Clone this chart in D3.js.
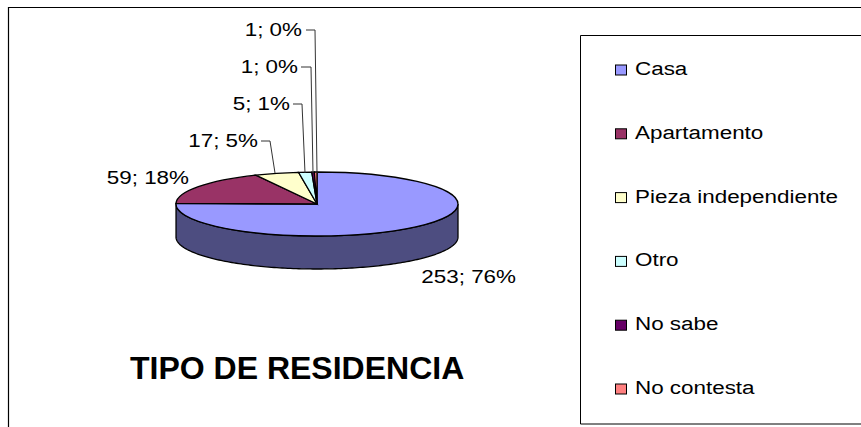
<!DOCTYPE html>
<html><head><meta charset="utf-8">
<script src="https://cdn.jsdelivr.net/npm/d3@7"></script>
<style>html,body{margin:0;padding:0;background:#fff}svg{display:block}text{font-family:"Liberation Sans",Arial,sans-serif;fill:#000}</style>
</head><body><svg id="c" width="861" height="427"></svg>
<script>
const categories = ["Casa","Apartamento","Pieza independiente","Otro","No sabe","No contesta"];
const values = [253,59,17,5,1,1];
const percentLabels = ["76%","18%","5%","1%","0%","0%"];
const colors = ["#9999ff","#993366","#ffffcc","#ccffff","#660066","#ff8080"];
const chartTitle = "TIPO DE RESIDENCIA";

const svg = d3.select("#c");
const cx=317, cy=204, rx=141, ry=32, depth=33;
const textSize=19, stretch=1.18;

svg.append("path").attr("d","M8.5 427V7.5H861").attr("fill","none").attr("stroke","#000").attr("stroke-width",1.2);

const arcs = d3.pie().sort(null).value(d=>d)(values);
const pt = (a,dy=0)=>[cx+rx*Math.sin(a), cy-ry*Math.cos(a)+dy];

// side wall
const wallAngles = d3.range(Math.PI/2, arcs[0].endAngle+0.001, 0.02);
const wall = [...wallAngles.map(a=>pt(a,depth)), ...wallAngles.slice().reverse().map(a=>pt(a))];
svg.append("path").attr("d",d3.line()(wall)+"Z").attr("fill","#4d4d80").attr("stroke","#000").attr("stroke-width",1.3);

// top face
const arc = d3.arc().innerRadius(0).outerRadius(1);
const face = svg.append("g").attr("transform",`translate(${cx},${cy}) scale(${rx},${ry})`);
face.selectAll("path").data(arcs).join("path").attr("d",arc)
  .attr("fill",(d,i)=>colors[i]).attr("stroke","#000").attr("stroke-width",1.3)
  .attr("vector-effect","non-scaling-stroke");

// data labels
const labelLayout = [
  {x:516,y:283},
  {x:189,y:184},
  {x:258,y:147,leader:[[261,141],[270,141],[275,173]]},
  {x:290,y:110,leader:[[293,104],[302,104],[305,173]]},
  {x:298,y:73,leader:[[301,67],[311,67],[313,173]]},
  {x:302,y:36,leader:[[306,30],[315,30],[317,173]]}
];
labelLayout.forEach((l,i)=>{
  svg.append("text").attr("transform",`translate(${l.x},${l.y}) scale(${stretch},1)`).attr("text-anchor","end")
    .attr("font-size",textSize).text(`${values[i]}; ${percentLabels[i]}`);
  if(l.leader) svg.append("path").attr("d",d3.line()(l.leader)).attr("fill","none").attr("stroke","#333").attr("stroke-width",1);
});

svg.append("text").attr("x",130).attr("y",379).attr("font-size",32).attr("font-weight","bold").text(chartTitle);

// legend
svg.append("path").attr("d","M861 35.5H580.5V424H861").attr("fill","#fff").attr("stroke","#000").attr("stroke-width",1);
const ly = d3.scalePoint().domain(categories).range([70,389]);
const g = svg.selectAll(".lg").data(categories).join("g").attr("class","lg").attr("transform",d=>`translate(0,${ly(d)})`);
g.append("rect").attr("x",615.5).attr("y",-5).attr("width",11).attr("height",10)
  .attr("fill",(d,i)=>colors[i]).attr("stroke","#000").attr("stroke-width",1);
g.append("text").attr("transform",`translate(635,5) scale(${stretch},1)`).attr("font-size",textSize).text(d=>d);
</script></body></html>
